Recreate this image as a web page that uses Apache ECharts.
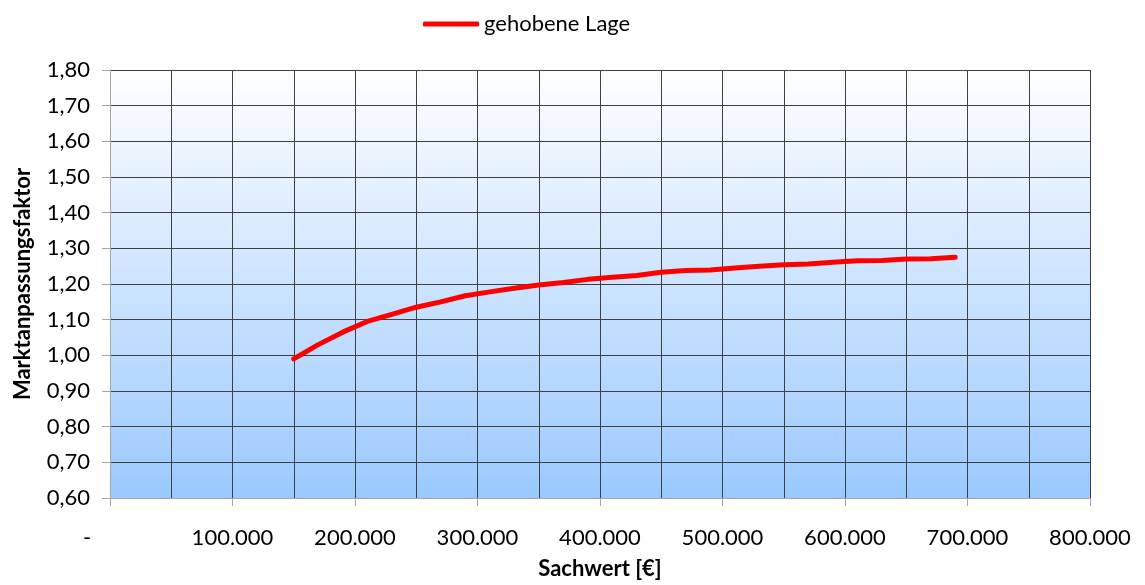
<!DOCTYPE html>
<html>
<head>
<meta charset="utf-8">
<script src="https://cdn.jsdelivr.net/npm/echarts@6/dist/echarts.min.js"></script>
<style>
  html, body { margin: 0; padding: 0; background: #fff; }
  #chart { width: 1145px; height: 585px; }
</style>
</head>
<body>
<div id="chart"></div>
<script>
// Sachwert in Euro (x) und Marktanpassungsfaktor (y)
var sachwerte = [150000, 170000, 190000, 210000, 230000, 250000, 270000, 290000, 310000, 330000,
                 350000, 370000, 390000, 410000, 430000, 450000, 470000, 490000, 510000, 530000,
                 550000, 570000, 590000, 610000, 630000, 650000, 670000, 690000];
var gehobeneLage = [0.99, 1.03, 1.065, 1.095, 1.115, 1.135, 1.15, 1.167, 1.178, 1.188,
                    1.197, 1.204, 1.213, 1.219, 1.224, 1.233, 1.238, 1.239, 1.245, 1.25,
                    1.254, 1.256, 1.261, 1.265, 1.266, 1.27, 1.271, 1.275];
var serienName = 'gehobene Lage';

var schrift = 'Lato, "Open Sans", sans-serif';
var groesse = 22;

function tausender(v) {
    return String(v).replace(/\B(?=(\d{3})+(?!\d))/g, '.');
}

var chart = echarts.init(document.getElementById('chart'));

var option = {
    animation: false,
    textStyle: { fontFamily: schrift },
    legend: {
        data: [serienName],
        left: 418,
        top: 8,
        itemWidth: 56,
        itemHeight: 5,
        itemGap: 5,
        icon: 'roundRect',
        textStyle: { fontSize: groesse, color: '#000', fontFamily: schrift }
    },
    grid: {
        left: 110,
        right: 55,
        top: 70,
        bottom: 85,
        show: true,
        borderWidth: 0,
        backgroundColor: new echarts.graphic.LinearGradient(0, 0, 0, 1, [
            { offset: 0, color: '#ffffff' },
            { offset: 1, color: '#9ac9ff' }
        ])
    },
    xAxis: {
        type: 'value',
        min: 0,
        max: 800000,
        interval: 100000,
        name: 'Sachwert [€]',
        nameLocation: 'middle',
        nameGap: 60,
        nameTextStyle: { fontSize: groesse, fontWeight: 'bold', color: '#000', fontFamily: schrift },
        axisLine: { show: true, lineStyle: { color: '#a6a6a6', width: 1 } },
        axisTick: { show: true, length: 8, lineStyle: { color: '#a6a6a6' } },
        axisLabel: {
            margin: 29,
            fontSize: groesse,
            color: '#000',
            fontFamily: schrift,
            formatter: function (v) {
                return v === 0 ? '{d|-}' : tausender(v);
            },
            rich: {
                d: { fontSize: groesse, color: '#000', fontFamily: schrift, padding: [0, 46, 0, 0] }
            }
        },
        splitLine: { show: true, lineStyle: { color: '#404040', width: 1 } },
        minorTick: { show: false, splitNumber: 2 },
        minorSplitLine: { show: true, lineStyle: { color: '#404040', width: 1 } }
    },
    yAxis: {
        type: 'value',
        min: 0.6,
        max: 1.8,
        interval: 0.1,
        name: 'Marktanpassungsfaktor',
        nameLocation: 'middle',
        nameGap: 76,
        nameTextStyle: { fontSize: groesse, fontWeight: 'bold', color: '#000', fontFamily: schrift },
        axisLine: { show: true, lineStyle: { color: '#a6a6a6', width: 1 } },
        axisTick: { show: true, length: 8, lineStyle: { color: '#a6a6a6' } },
        axisLabel: {
            margin: 20,
            fontSize: groesse,
            color: '#000',
            fontFamily: schrift,
            formatter: function (v) {
                return v.toFixed(2).replace('.', ',');
            }
        },
        splitLine: { show: true, lineStyle: { color: '#404040', width: 1 } }
    },
    series: [
        {
            name: serienName,
            type: 'line',
            data: sachwerte.map(function (x, i) { return [x, gehobeneLage[i]]; }),
            showSymbol: false,
            symbol: 'none',
            lineStyle: { color: '#ff0000', width: 5, cap: 'round', join: 'round' },
            itemStyle: { color: '#ff0000' }
        }
    ]
};

chart.setOption(option);
</script>
</body>
</html>
